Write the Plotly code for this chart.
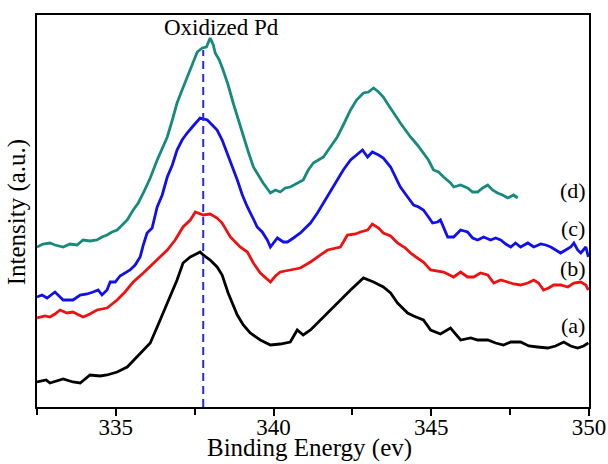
import plotly.graph_objects as go

# ---- data (binding energy in eV, intensity in arbitrary units) ----
be_a = [332.50, 332.79, 332.91, 333.33, 333.64, 333.87, 334.18, 334.50, 334.72, 335.04,
        335.36, 335.67, 335.93, 336.09, 336.31, 336.50, 336.72, 336.94, 337.13, 337.36,
        337.61, 337.67, 337.77, 337.99, 338.21, 338.37, 338.56, 338.85, 339.04, 339.26,
        339.58, 339.90, 340.21, 340.53, 340.75, 340.94, 341.17, 341.39, 341.58, 341.80,
        342.12, 342.44, 342.85, 343.17, 343.48, 343.71, 343.93, 344.25, 344.44, 344.75,
        344.98, 345.29, 345.61, 345.93, 346.25, 346.47, 346.79, 347.04, 347.29, 347.52,
        347.83, 348.09, 348.37, 348.69, 348.94, 349.20, 349.42, 349.64, 349.83, 349.98]
int_a = [25, 27, 24, 28, 25, 24, 32, 31, 32, 35,
         40, 50, 59, 64, 80, 94, 110, 127, 144, 150,
         154, 155, 152, 147, 140, 132, 114, 92, 82, 74,
         67, 62, 63, 65, 77, 72, 77, 84, 89, 97,
         107, 117, 129, 125, 120, 114, 104, 94, 91, 87,
         77, 73, 79, 67, 69, 67, 67, 64, 62, 65,
         65, 61, 60, 59, 61, 65, 61, 59, 61, 64]

be_b = [332.50, 332.75, 332.91, 333.07, 333.23, 333.45, 333.64, 333.96, 334.18, 334.40,
        334.72, 335.04, 335.29, 335.55, 335.87, 336.31, 336.63, 336.88, 337.13, 337.36,
        337.52, 337.77, 337.99, 338.21, 338.37, 338.63, 338.94, 339.17, 339.36, 339.58,
        339.90, 340.06, 340.21, 340.53, 340.85, 341.17, 341.39, 341.71, 342.12, 342.34,
        342.60, 342.75, 342.98, 343.13, 343.33, 343.48, 343.71, 343.93, 344.18, 344.34,
        344.56, 344.75, 344.98, 345.20, 345.39, 345.71, 345.93, 346.15, 346.34, 346.56,
        346.79, 346.98, 347.20, 347.42, 347.61, 347.83, 348.06, 348.25, 348.40, 348.56,
        348.72, 348.88, 349.10, 349.33, 349.52, 349.74, 349.90, 349.98]
int_b = [89, 91, 90, 93, 97, 94, 95, 90, 93, 97,
         99, 107, 115, 125, 134, 147, 157, 167, 180, 187,
         195, 192, 193, 189, 184, 170, 160, 155, 144, 134,
         125, 131, 135, 137, 139, 145, 150, 157, 160, 172,
         173, 175, 177, 183, 179, 174, 171, 164, 159, 154,
         149, 145, 137, 136, 135, 130, 135, 130, 130, 134,
         132, 124, 127, 125, 123, 122, 124, 127, 124, 117,
         119, 122, 122, 120, 124, 125, 122, 117]

be_c = [332.50, 332.66, 332.82, 333.07, 333.33, 333.64, 333.87, 334.09, 334.28, 334.44,
        334.56, 334.72, 334.82, 334.98, 335.13, 335.29, 335.45, 335.61, 335.77, 335.87,
        335.99, 336.15, 336.31, 336.47, 336.63, 336.79, 336.94, 337.10, 337.26, 337.45,
        337.67, 337.90, 338.06, 338.21, 338.37, 338.53, 338.69, 338.85, 339.01, 339.17,
        339.33, 339.48, 339.64, 339.80, 339.90, 340.12, 340.31, 340.44, 340.63, 340.85,
        341.01, 341.17, 341.39, 341.58, 341.80, 342.02, 342.21, 342.44, 342.63, 342.82,
        342.98, 343.13, 343.33, 343.48, 343.71, 343.87, 344.02, 344.25, 344.44, 344.60,
        344.75, 344.91, 345.04, 345.20, 345.29, 345.52, 345.71, 345.93, 346.15, 346.31,
        346.47, 346.66, 346.88, 347.04, 347.20, 347.36, 347.52, 347.67, 347.83, 348.06,
        348.25, 348.47, 348.63, 348.79, 348.94, 349.10, 349.26, 349.42, 349.52, 349.64,
        349.74, 349.90, 349.98]
int_c = [110, 112, 109, 115, 107, 107, 112, 113, 115, 117,
         112, 117, 125, 125, 131, 134, 137, 142, 150, 162,
         174, 179, 200, 212, 230, 242, 257, 267, 274, 281,
         289, 287, 282, 277, 267, 254, 242, 227, 212, 200,
         190, 180, 175, 167, 160, 169, 165, 165, 169, 174,
         179, 184, 194, 204, 215, 227, 237, 247, 252, 257,
         250, 255, 252, 249, 240, 229, 220, 210, 202, 200,
         197, 190, 184, 185, 187, 170, 170, 177, 175, 169,
         167, 170, 167, 169, 167, 163, 160, 164, 160, 164,
         160, 163, 162, 160, 157, 154, 157, 160, 164, 157,
         154, 160, 150]

be_d = [332.50, 332.69, 332.91, 333.07, 333.33, 333.55, 333.77, 333.96, 334.18, 334.40,
        334.56, 334.72, 334.88, 335.04, 335.20, 335.36, 335.55, 335.71, 335.87, 336.09,
        336.31, 336.47, 336.63, 336.79, 336.94, 337.10, 337.26, 337.42, 337.58, 337.74,
        337.87, 337.99, 338.09, 338.15, 338.28, 338.40, 338.56, 338.72, 338.88, 339.04,
        339.20, 339.36, 339.52, 339.67, 339.90, 340.06, 340.21, 340.37, 340.53, 340.75,
        340.94, 341.10, 341.26, 341.42, 341.58, 341.80, 342.02, 342.21, 342.44, 342.63,
        342.85, 343.01, 343.17, 343.33, 343.48, 343.64, 343.80, 344.02, 344.18, 344.34,
        344.56, 344.75, 344.91, 345.07, 345.23, 345.39, 345.61, 345.71, 345.93, 346.15,
        346.31, 346.47, 346.63, 346.79, 346.94, 347.10, 347.26, 347.42, 347.61, 347.74]
int_d = [160, 163, 164, 162, 160, 163, 162, 167, 166, 167,
         170, 172, 175, 177, 182, 187, 197, 204, 214, 229,
         247, 259, 270, 287, 304, 317, 330, 342, 355, 359,
         360, 369, 362, 354, 347, 337, 322, 304, 287, 270,
         255, 240, 232, 224, 214, 217, 215, 219, 220, 224,
         227, 237, 244, 247, 250, 260, 270, 282, 297, 307,
         314, 315, 319, 315, 310, 302, 294, 284, 277, 270,
         262, 254, 247, 237, 235, 230, 224, 220, 222, 219,
         215, 215, 219, 222, 217, 214, 212, 209, 212, 209]

series_labels = ["(a)", "(b)", "(c)", "(d)"]
label_y = [82, 139, 179, 217]
label_x = 349.48
pd_peak_be = 337.77
pd_line_top = 357
x_ticks = [335, 340, 345, 350]

FONT = "Liberation Serif, Times New Roman, serif"
colors = ["#000000", "#ee1111", "#1010ee", "#178a7e"]

fig = go.Figure()
for xs, ys, col, name in zip([be_a, be_b, be_c, be_d], [int_a, int_b, int_c, int_d], colors, series_labels):
    fig.add_trace(go.Scatter(x=xs, y=ys, mode="lines", name=name,
                             line=dict(color=col, width=2.8), showlegend=False))

# dashed reference line at the oxidized Pd peak
fig.add_trace(go.Scatter(x=[pd_peak_be, pd_peak_be], y=[0, pd_line_top], mode="lines",
                         line=dict(color="#2a2ad8", width=2, dash="8px,5px"), showlegend=False))

annotations = [dict(x=pd_peak_be + 0.57, y=380, xref="x", yref="y", text="Oxidized Pd",
                    showarrow=False, font=dict(family=FONT, size=23, color="black"))]
for lab, ly in zip(series_labels, label_y):
    annotations.append(dict(x=label_x, y=ly, xref="x", yref="y", text=lab, showarrow=False,
                            font=dict(family=FONT, size=22, color="black")))
annotations.append(dict(x=0.493, y=-0.104, xref="paper", yref="paper", text="Binding Energy (ev)",
                        showarrow=False, yanchor="middle", font=dict(family=FONT, size=25, color="black")))
annotations.append(dict(x=-0.036, y=0.497, xref="paper", yref="paper", text="Intensity (a.u.)",
                        showarrow=False, textangle=-90, xanchor="center", yanchor="middle",
                        font=dict(family=FONT, size=25, color="black")))

fig.update_layout(
    width=608, height=464,
    margin=dict(l=37, r=19, t=15, b=57),
    paper_bgcolor="white", plot_bgcolor="white",
    font=dict(family=FONT, color="black"),
    annotations=annotations,
    xaxis=dict(range=[332.5, 350], tickvals=x_ticks, ticks="outside", ticklen=7, tickwidth=1.5,
               tickcolor="black", showline=True, linecolor="black", linewidth=1.5, mirror=True,
               showgrid=False, zeroline=False, automargin=False, ticklabelstandoff=-8,
               tickfont=dict(family=FONT, size=23, color="black"),
               minor=dict(dtick=2.5, tick0=332.5, ticks="outside", ticklen=6, tickwidth=1.5, tickcolor="black")),
    yaxis=dict(range=[0, 392], showticklabels=False, ticks="", showline=True, linecolor="black",
               linewidth=1.5, mirror=True, showgrid=False, zeroline=False, automargin=False),
)

fig.write_html("out.html", config={"displayModeBar": False},
               post_script="document.body.style.margin='0px';document.body.style.overflow='hidden';")
